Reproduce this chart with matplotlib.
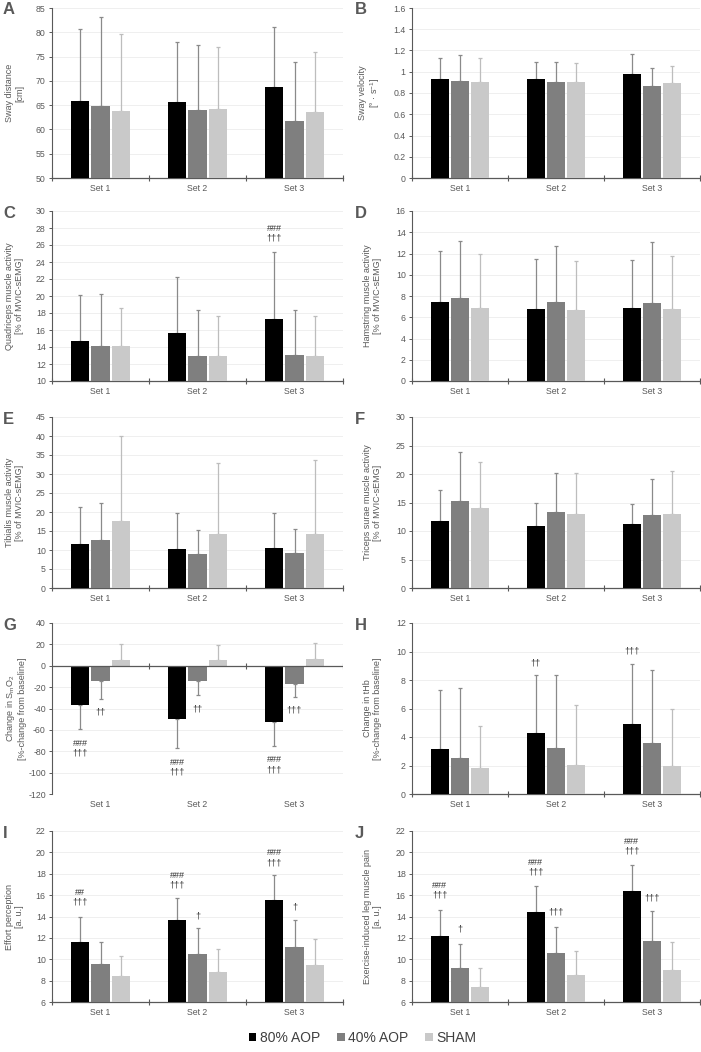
import matplotlib
matplotlib.use("Agg")
import matplotlib.pyplot as plt
import numpy as np
from matplotlib.patches import Patch
from matplotlib.ticker import FuncFormatter, MultipleLocator

plt.rcParams['font.family'] = ['Liberation Sans', 'DejaVu Sans']
plt.rcParams['mathtext.fontset'] = 'custom'
plt.rcParams['mathtext.rm'] = 'Liberation Sans'
plt.rcParams['mathtext.it'] = 'Liberation Sans'
plt.rcParams['mathtext.default'] = 'regular'

# ---------------- data ----------------
sets = ["Set 1", "Set 2", "Set 3"]
groups = ["80% AOP", "40% AOP", "SHAM"]

# means per group, indexed [group][set]
A_mean = [[65.9, 65.6, 68.8], [64.9, 63.9, 61.7], [63.7, 64.2, 63.6]]
A_sd = [[14.8, 12.3, 12.2], [18.2, 13.4, 12.1], [16.0, 12.8, 12.4]]

B_mean = [[0.93, 0.93, 0.98], [0.91, 0.90, 0.87], [0.90, 0.905, 0.89]]
B_sd = [[0.20, 0.16, 0.19], [0.25, 0.19, 0.165], [0.23, 0.18, 0.165]]

C_mean = [[14.7, 15.6, 17.3], [14.1, 13.0, 13.1], [14.1, 12.9, 12.9]]
C_sd = [[5.4, 6.6, 7.9], [6.1, 5.3, 5.25], [4.5, 4.7, 4.8]]

D_mean = [[7.4, 6.8, 6.85], [7.8, 7.4, 7.35], [6.9, 6.7, 6.8]]
D_sd = [[4.8, 4.65, 4.5], [5.4, 5.35, 5.7], [5.1, 4.6, 4.95]]

E_mean = [[11.5, 10.2, 10.4], [12.7, 9.0, 9.2], [17.6, 14.1, 14.2]]
E_sd = [[9.9, 9.6, 9.4], [9.7, 6.3, 6.4], [22.4, 18.9, 19.5]]

F_mean = [[11.8, 10.8, 11.2], [15.3, 13.3, 12.8], [14.1, 13.0, 13.0]]
F_sd = [[5.4, 4.2, 3.6], [8.6, 6.8, 6.4], [8.0, 7.1, 7.6]]

G_mean = [[-36.4, -50.1, -52.6], [-14.0, -14.0, -17.4], [5.7, 5.7, 6.6]]
G_sd = [[22.8, 26.6, 22.8], [17.1, 13.1, 12.2], [14.7, 14.0, 14.4]]

H_mean = [[3.19, 4.30, 4.91], [2.56, 3.22, 3.55], [1.81, 2.07, 1.95]]
H_sd = [[4.11, 4.04, 4.20], [4.88, 5.12, 5.14], [2.98, 4.20, 4.02]]

I_mean = [[11.6, 13.7, 15.5], [9.6, 10.5, 11.1], [8.4, 8.85, 9.45]]
I_sd = [[2.4, 2.0, 2.4], [2.0, 2.4, 2.6], [1.9, 2.15, 2.45]]

J_mean = [[12.2, 14.45, 16.35], [9.2, 10.6, 11.75], [7.4, 8.5, 8.95]]
J_sd = [[2.45, 2.4, 2.5], [2.25, 2.45, 2.75], [1.8, 2.3, 2.7]]

# annotations: (set index, group index, text, y centre)
C_annot = [(2, 0, "###\n†††", 27.4)]
G_annot = [(0, 0, "###\n†††", -77), (0, 1, "††", -43.6),
           (1, 0, "###\n†††", -95), (1, 1, "††", -40),
           (2, 0, "###\n†††", -92.5), (2, 1, "†††", -41)]
H_annot = [(1, 0, "††", 9.2), (2, 0, "†††", 10.0)]
I_annot = [(0, 0, "##\n†††", 15.8), (1, 0, "###\n†††", 17.4), (1, 1, "†", 14.05),
           (2, 0, "###\n†††", 19.5), (2, 1, "†", 14.9)]
J_annot = [(0, 0, "###\n†††", 16.47), (0, 1, "†", 12.8),
           (1, 0, "###\n†††", 18.6), (1, 1, "†††", 14.4),
           (2, 0, "###\n†††", 20.57), (2, 1, "†††", 15.7)]

panels = [
    dict(letter="A", mean=A_mean, sd=A_sd, ylim=(50, 85), step=5,
         ylabel="Sway distance\n[cm]", annot=[]),
    dict(letter="B", mean=B_mean, sd=B_sd, ylim=(0, 1.6), step=0.2,
         ylabel="Sway velocity\n[° · s$^{-1}$]", annot=[]),
    dict(letter="C", mean=C_mean, sd=C_sd, ylim=(10, 30), step=2,
         ylabel="Quadriceps muscle activity\n[% of MVIC-sEMG]", annot=C_annot),
    dict(letter="D", mean=D_mean, sd=D_sd, ylim=(0, 16), step=2,
         ylabel="Hamstring muscle activity\n[% of MVIC-sEMG]", annot=[]),
    dict(letter="E", mean=E_mean, sd=E_sd, ylim=(0, 45), step=5,
         ylabel="Tibialis muscle activity\n[% of MVIC-sEMG]", annot=[]),
    dict(letter="F", mean=F_mean, sd=F_sd, ylim=(0, 30), step=5,
         ylabel="Triceps surae muscle activity\n[% of MVIC-sEMG]", annot=[]),
    dict(letter="G", mean=G_mean, sd=G_sd, ylim=(-120, 40), step=20,
         ylabel="Change in S$_{m}$O$_{2}$\n[%-change from baseline]", annot=G_annot),
    dict(letter="H", mean=H_mean, sd=H_sd, ylim=(0, 12), step=2,
         ylabel="Change in tHb\n[%-change from baseline]", annot=H_annot),
    dict(letter="I", mean=I_mean, sd=I_sd, ylim=(6, 22), step=2,
         ylabel="Effort perception\n[a. u.]", annot=I_annot),
    dict(letter="J", mean=J_mean, sd=J_sd, ylim=(6, 22), step=2,
         ylabel="Exercise-induced leg muscle pain\n[a. u.]", annot=J_annot),
]

# ---------------- style ----------------
bar_colors = ["#000000", "#7f7f7f", "#c9c9c9"]
err_colors = ["#8a8a8a", "#8a8a8a", "#bdbdbd"]
axis_col = "#595959"
text_col = "#595959"
W, H = 701, 1052

fig = plt.figure(figsize=(W / 100, H / 100), dpi=100)

rows_px = [(8, 178), (211, 381), (417, 588), (623, 794), (831, 1002)]
cols_px = [(52, 343), (412, 700)]

x = np.arange(len(sets))
offs = [-0.21, 0.0, 0.21]
bw = 0.19

for i, p in enumerate(panels):
    r, c = divmod(i, 2)
    top, bot = rows_px[r]
    lft, rgt = cols_px[c]
    ax = fig.add_axes([lft / W, 1 - bot / H, (rgt - lft) / W, (bot - top) / H])
    ymin, ymax = p["ylim"]
    for g in range(3):
        m = np.array(p["mean"][g])
        s = np.array(p["sd"][g])
        lower = np.where(m < 0, s, 0)
        upper = np.where(m >= 0, s, 0)
        ax.bar(x + offs[g], m, width=bw, color=bar_colors[g], zorder=3,
               linewidth=0)
        ax.errorbar(x + offs[g], m, yerr=[lower, upper], fmt="none",
                    ecolor=err_colors[g], elinewidth=0.9, capsize=1.6,
                    capthick=0.9, zorder=2)
    for (si, gi, txt, yy) in p["annot"]:
        ax.text(x[si] + offs[gi], yy, txt, ha="center", va="center",
                fontsize=6.5, color="#333333", linespacing=1.15, zorder=4)

    ax.set_xlim(-0.5, 2.5)
    ax.set_ylim(ymin, ymax)
    ax.yaxis.set_major_locator(MultipleLocator(p["step"]))
    ax.yaxis.set_major_formatter(FuncFormatter(lambda v, pos: f"{round(v, 6):g}"))
    ax.grid(axis="y", color="#ececec", linewidth=0.6, zorder=0)
    ax.set_axisbelow(True)
    for sp in ["top", "right"]:
        ax.spines[sp].set_visible(False)
    ax.spines["left"].set_color(axis_col)
    ax.spines["left"].set_linewidth(0.8)
    ax.tick_params(axis="y", direction="out", length=2.5, width=0.7,
                   colors=axis_col, labelsize=6.3, labelcolor=text_col, pad=2)
    ax.set_xticks(x)
    ax.set_xticklabels(sets)
    ax.set_xticks([-0.5, 0.5, 1.5, 2.5], minor=True)
    ax.tick_params(axis="x", which="major", length=0, labelsize=6.3,
                   labelcolor=text_col, pad=4)
    if ymin < 0 < ymax:
        ax.spines["bottom"].set_visible(False)
        ax.tick_params(axis="x", which="minor", length=0)
        ax.axhline(0, color=axis_col, linewidth=0.9, zorder=3.5)
        tick_h = (ymax - ymin) * 0.018
        ax.vlines([0.5, 1.5, 2.5], -tick_h, tick_h, color=axis_col,
                  linewidth=0.8, zorder=3.5)
    else:
        ax.spines["bottom"].set_color(axis_col)
        ax.spines["bottom"].set_linewidth(0.9)
        ax.tick_params(axis="x", which="minor", direction="inout", length=5,
                       width=0.8, color=axis_col)
    ax.set_ylabel(p["ylabel"], fontsize=6.5, color=text_col, linespacing=1.15)
    lab_px = 24 if c == 0 else 382
    if p["letter"] == "G":
        lab_px = 27
    ax.yaxis.set_label_coords((lab_px - lft) / (rgt - lft), 0.5)

    letter_x = 3 if c == 0 else 355
    fig.text(letter_x / W, 1 - (top + 2) / H, p["letter"], fontsize=12,
             fontweight="bold", color=text_col, ha="left", va="center")

handles = [Patch(facecolor=bar_colors[g], edgecolor="none") for g in range(3)]
fig.legend(handles, groups, loc="center", bbox_to_anchor=(0.517, 1 - 1038 / H),
           ncol=3, frameon=False, fontsize=10, handlelength=0.55,
           handleheight=0.55, handletextpad=0.25, columnspacing=1.2,
           labelcolor="#404040")

fig.savefig("out.png", dpi=100)
